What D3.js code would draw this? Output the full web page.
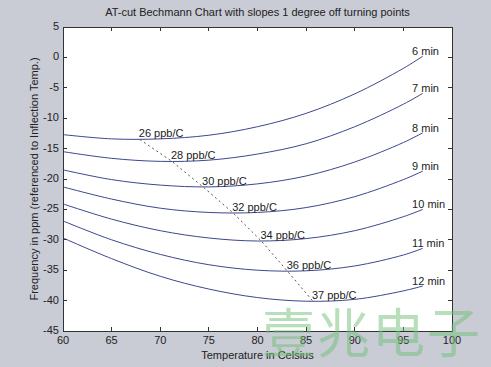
<!DOCTYPE html>
<html>
<head>
<meta charset="utf-8">
<script src="https://cdn.jsdelivr.net/npm/d3@7"></script>
<style>
  body { margin: 0; background: #c9cbd5; }
  svg { display: block; font-family: "Liberation Sans", Arial, sans-serif; }
</style>
</head>
<body>
<div class="bechmann-chart"></div>
<script>

// temperatures the curves were read at (Celsius)
var temps = [60, 65, 70, 75, 80, 85, 90, 95, 97];

// frequency in ppm for each cut angle
var freq6min  = [-12.7, -13.4, -13.4, -12.8, -11.4, -9.2, -6.0, -1.8, 0.2];
var freq7min  = [-15.5, -16.6, -17.1, -16.9, -15.9, -14.2, -11.4, -7.7, -5.9];
var freq8min  = [-18.5, -20.1, -21.0, -21.3, -20.8, -19.5, -17.2, -14.0, -12.4];
var freq9min  = [-21.3, -23.3, -24.8, -25.5, -25.5, -24.7, -22.9, -20.1, -18.7];
var freq10min = [-24.1, -26.6, -28.5, -29.7, -30.2, -29.8, -28.5, -26.2, -25.0];
var freq11min = [-26.9, -30.0, -32.4, -34.1, -35.0, -35.1, -34.3, -32.5, -31.4];
var freq12min = [-29.7, -33.1, -36.0, -38.1, -39.5, -40.1, -39.8, -38.4, -37.6];

var cutLabels = ["6 min", "7 min", "8 min", "9 min", "10 min", "11 min", "12 min"];

// points on the dashed line and their slope labels
var turnTemps = [67.9, 71.2, 74.4, 77.5, 80.4, 83.1, 85.7];
var turnFreqs = [-13.5, -17.1, -21.3, -25.6, -30.2, -35.2, -40.1];
var slopeLabels = ["26 ppb/C", "28 ppb/C", "30 ppb/C", "32 ppb/C", "34 ppb/C", "36 ppb/C", "37 ppb/C"];

var xTicks = [60, 65, 70, 75, 80, 85, 90, 95, 100];
var yTicks = [5, 0, -5, -10, -15, -20, -25, -30, -35, -40, -45];

var series = [freq6min, freq7min, freq8min, freq9min, freq10min, freq11min, freq12min];

var lineColor = "#3e4690";
var textColor = "#222";

var margin = {top: 27, right: 39, bottom: 36, left: 63};
var width = 491 - margin.left - margin.right;
var height = 367 - margin.top - margin.bottom;

var root = d3.select(".bechmann-chart")
  .append("svg")
    .attr("width", 491)
    .attr("height", 367);

root.append("rect")
  .attr("width", 491)
  .attr("height", 367)
  .attr("fill", "#c9cbd5");

var svg = root.append("g")
  .attr("transform", "translate(" + margin.left + "," + margin.top + ")");

var x = d3.scaleLinear().domain([60, 100]).range([0, width]);
var y = d3.scaleLinear().domain([-45, 5]).range([height, 0]);

svg.append("rect")
  .attr("width", width)
  .attr("height", height)
  .attr("fill", "#fff");

// curves
var line = d3.line()
  .x(function(d, i) { return x(temps[i]); })
  .y(function(d) { return y(d); })
  .curve(d3.curveCatmullRom);

svg.selectAll(".curve")
  .data(series)
  .enter()
  .append("path")
    .attr("class", "curve")
    .attr("d", line)
    .attr("fill", "none")
    .attr("stroke", lineColor)
    .attr("stroke-width", 1);

// dashed line through the marked points
var dashLine = d3.line()
  .x(function(d, i) { return x(turnTemps[i]); })
  .y(function(d) { return y(d); });

svg.append("path")
  .attr("d", dashLine(turnFreqs))
  .attr("fill", "none")
  .attr("stroke", "#555")
  .attr("stroke-width", 1)
  .attr("stroke-dasharray", "2,3");

svg.selectAll(".slope-label")
  .data(slopeLabels)
  .enter()
  .append("text")
    .attr("class", "slope-label")
    .attr("x", function(d, i) { return x(turnTemps[i]) - 1; })
    .attr("y", function(d, i) { return y(turnFreqs[i]) - 5; })
    .attr("dominant-baseline", "middle")
    .attr("font-size", 11)
    .attr("fill", textColor)
    .text(function(d) { return d; });

svg.selectAll(".cut-label")
  .data(cutLabels)
  .enter()
  .append("text")
    .attr("class", "cut-label")
    .attr("x", x(96) - 1)
    .attr("y", function(d, i) { return y(series[i][series[i].length - 1]) - 4; })
    .attr("dominant-baseline", "middle")
    .attr("font-size", 11)
    .attr("fill", textColor)
    .text(function(d) { return d; });

// axes, matlab style: box with inward ticks on every side
var axisColor = "#333";

svg.append("rect")
  .attr("width", width)
  .attr("height", height)
  .attr("fill", "none")
  .attr("stroke", axisColor)
  .attr("stroke-width", 1)
  .attr("shape-rendering", "crispEdges");

var tickLen = 4;

svg.selectAll(".xtick-b")
  .data(xTicks)
  .enter()
  .append("line")
    .attr("x1", function(d) { return x(d); })
    .attr("x2", function(d) { return x(d); })
    .attr("y1", height)
    .attr("y2", height - tickLen);

svg.selectAll(".xtick-t")
  .data(xTicks)
  .enter()
  .append("line")
    .attr("x1", function(d) { return x(d); })
    .attr("x2", function(d) { return x(d); })
    .attr("y1", 0)
    .attr("y2", tickLen);

svg.selectAll(".ytick-l")
  .data(yTicks)
  .enter()
  .append("line")
    .attr("x1", 0)
    .attr("x2", tickLen)
    .attr("y1", function(d) { return y(d); })
    .attr("y2", function(d) { return y(d); });

svg.selectAll(".ytick-r")
  .data(yTicks)
  .enter()
  .append("line")
    .attr("x1", width)
    .attr("x2", width - tickLen)
    .attr("y1", function(d) { return y(d); })
    .attr("y2", function(d) { return y(d); });

svg.selectAll("line")
  .attr("stroke", axisColor)
  .attr("stroke-width", 1)
  .attr("shape-rendering", "crispEdges");

svg.selectAll(".xlabel")
  .data(xTicks)
  .enter()
  .append("text")
    .attr("x", function(d) { return x(d); })
    .attr("y", height + 10)
    .attr("text-anchor", "middle")
    .attr("dominant-baseline", "middle")
    .attr("font-size", 11)
    .attr("fill", textColor)
    .text(function(d) { return d; });

svg.selectAll(".ylabel")
  .data(yTicks)
  .enter()
  .append("text")
    .attr("x", -4)
    .attr("y", function(d) { return y(d); })
    .attr("text-anchor", "end")
    .attr("dominant-baseline", "middle")
    .attr("font-size", 11)
    .attr("fill", textColor)
    .text(function(d) { return d; });

// titles
svg.append("text")
  .attr("x", width / 2)
  .attr("y", -14)
  .attr("text-anchor", "middle")
  .attr("dominant-baseline", "middle")
  .attr("font-size", 11)
  .attr("fill", textColor)
  .text("AT-cut Bechmann Chart with slopes 1 degree off turning points");

svg.append("text")
  .attr("x", width / 2)
  .attr("y", height + 25)
  .attr("text-anchor", "middle")
  .attr("dominant-baseline", "middle")
  .attr("font-size", 11)
  .attr("fill", textColor)
  .text("Temperature in Celsius");

svg.append("text")
  .attr("transform", "translate(-28," + (height / 2) + ") rotate(-90)")
  .attr("text-anchor", "middle")
  .attr("dominant-baseline", "middle")
  .attr("font-size", 11)
  .attr("fill", textColor)
  .text("Frequency in ppm (referenced to Inflection Temp.)");

// watermark
root.append("text")
  .attr("x", 262)
  .attr("y", 353)
  .attr("font-family", "Noto Sans CJK SC")
  .attr("font-size", 53)
  .attr("letter-spacing", 2)
  .attr("fill", "#6fbf76")
  .attr("fill-opacity", 0.5)
  .text("壹兆电子");

</script>
</body>
</html>
